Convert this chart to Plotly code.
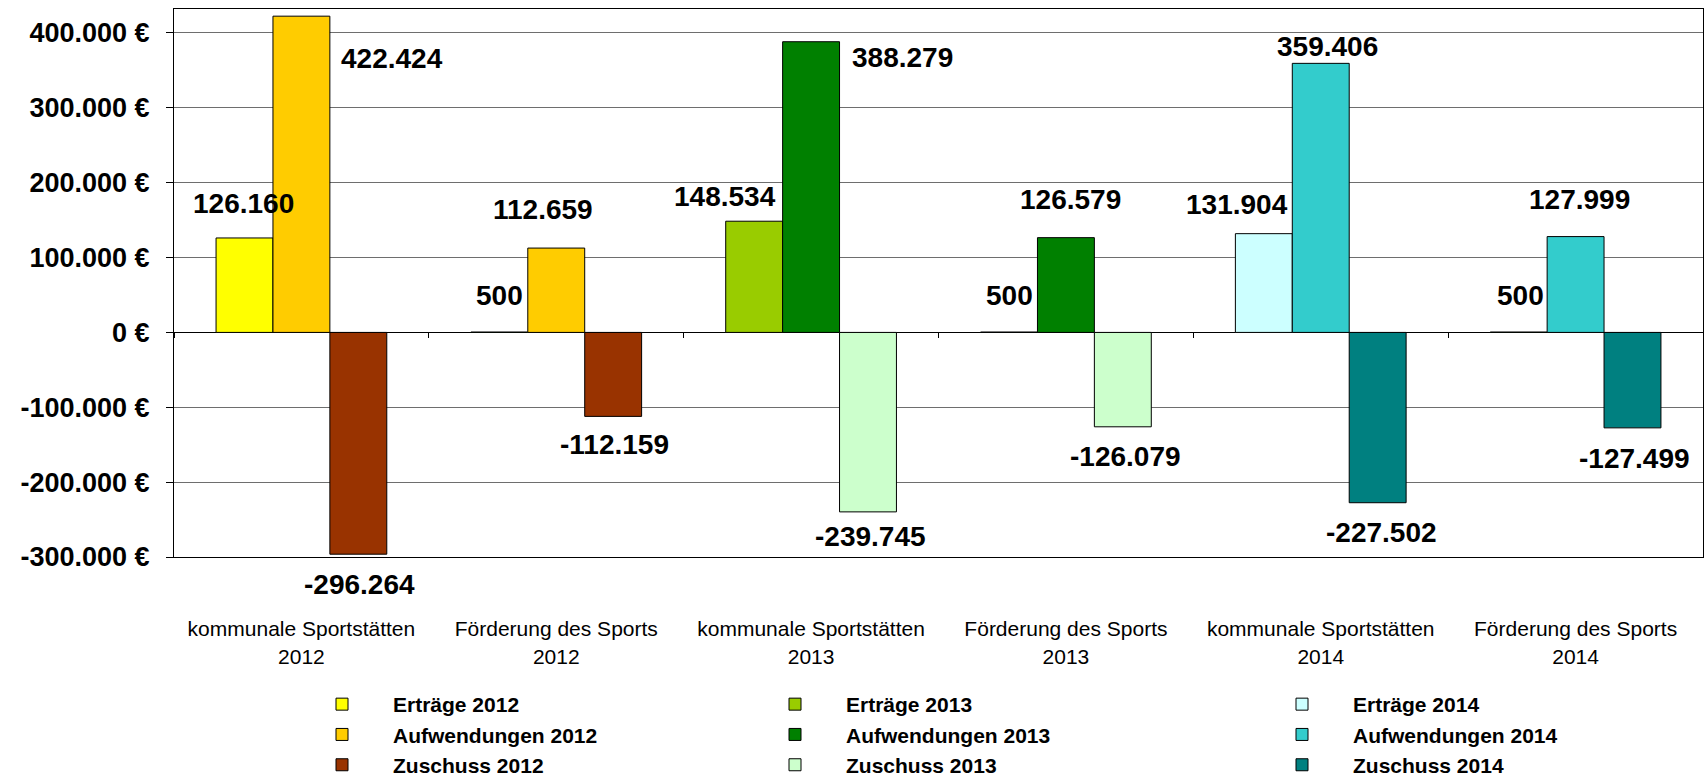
import plotly.graph_objects as go

# ---------------- data ----------------
categories = [
    "kommunale Sportstätten<br>2012", "Förderung des Sports<br>2012",
    "kommunale Sportstätten<br>2013", "Förderung des Sports<br>2013",
    "kommunale Sportstätten<br>2014", "Förderung des Sports<br>2014",
]
years = ["2012", "2013", "2014"]

ertraege_2012 = [126160, 500]
aufwendungen_2012 = [422424, 112659]
zuschuss_2012 = [-296264, -112159]

ertraege_2013 = [148534, 500]
aufwendungen_2013 = [388279, 126579]
zuschuss_2013 = [-239745, -126079]

ertraege_2014 = [131904, 500]
aufwendungen_2014 = [359406, 127999]
zuschuss_2014 = [-227502, -127499]

tick_values = [-300000, -200000, -100000, 0, 100000, 200000, 300000, 400000]
tick_labels = ["-300.000 €", "-200.000 €", "-100.000 €", "0 €",
               "100.000 €", "200.000 €", "300.000 €", "400.000 €"]

# ---------------- styles ----------------
FONT = "Liberation Sans, Arial, sans-serif"
W, H = 1704, 779
ML, MR, MT, MB = 174, 1, 9, 222
Y_RANGE = [-300000, 432000]
BARGAP = 0.33

colors = {
    ("E", "2012"): ["#FFFF00", "#00FF00"],
    ("A", "2012"): ["#FFCC00", "#FFCC00"],
    ("Z", "2012"): ["#993300", "#993300"],
    ("E", "2013"): ["#99CC00", "#339966"],
    ("A", "2013"): ["#008000", "#008000"],
    ("Z", "2013"): ["#CCFFCC", "#CCFFCC"],
    ("E", "2014"): ["#CCFFFF", "#00FF00"],
    ("A", "2014"): ["#33CCCC", "#33CCCC"],
    ("Z", "2014"): ["#008080", "#008080"],
}
names = {"E": "Erträge", "A": "Aufwendungen", "Z": "Zuschuss"}
series = {
    ("E", "2012"): ertraege_2012, ("A", "2012"): aufwendungen_2012, ("Z", "2012"): zuschuss_2012,
    ("E", "2013"): ertraege_2013, ("A", "2013"): aufwendungen_2013, ("Z", "2013"): zuschuss_2013,
    ("E", "2014"): ertraege_2014, ("A", "2014"): aufwendungen_2014, ("Z", "2014"): zuschuss_2014,
}
legend_of_year = {"2012": "legend", "2013": "legend2", "2014": "legend3"}

# label offsets (px) from bar centre / bar end : (dx, dy down)
label_offsets = {
    ("E", "2012"): [(-1, -34), (0, -37)],
    ("A", "2012"): [(91, 42), (-13, -39)],
    ("Z", "2012"): [(1, 30), (1, 28)],
    ("E", "2013"): [(-29, -25), (0, -37)],
    ("A", "2013"): [(91, 16), (5, -38)],
    ("Z", "2013"): [(3, 25), (3, 30)],
    ("E", "2014"): [(-27, -29), (2, -37)],
    ("A", "2014"): [(7, -17), (4, -37)],
    ("Z", "2014"): [(4, 30), (2, 31)],
}
slot_index = {"E": -1, "A": 0, "Z": 1}

plot_w = W - ML - MR
plot_h = H - MT - MB
cat_px = plot_w / len(categories)
bar_px = cat_px * (1 - BARGAP) / 3


def fmt(v):
    return f"{v:,}".replace(",", ".")


fig = go.Figure()
annotations = []
for yi, year in enumerate(years):
    cats = categories[2 * yi: 2 * yi + 2]
    for kind in ["E", "A", "Z"]:
        key = (kind, year)
        vals = series[key]
        fig.add_trace(go.Bar(
            x=cats, y=vals, name=f"{names[kind]} {year}",
            offsetgroup=kind,
            marker=dict(color=colors[key], line=dict(color="#000000", width=1)),
            legend=legend_of_year[year],
            hoverinfo="x+y",
        ))
        for c, v, (dx, dy) in zip(cats, vals, label_offsets[key]):
            annotations.append(dict(
                x=c, y=v, xref="x", yref="y", text=fmt(v), showarrow=False,
                xanchor="center", yanchor="middle",
                xshift=slot_index[kind] * bar_px + dx, yshift=-dy,
                font=dict(family=FONT, size=28, color="#000000", weight="bold"),
            ))

# invisible helper trace so the zero-line tick axis is drawn
fig.add_trace(go.Scatter(x=categories, y=[None] * len(categories), xaxis="x2",
                         mode="markers", showlegend=False, hoverinfo="skip"))

zero_frac = (0 - Y_RANGE[0]) / (Y_RANGE[1] - Y_RANGE[0])
legend_top_px = 684

leg_common = dict(
    orientation="v", xanchor="left", yanchor="top",
    y=-(legend_top_px - (MT + plot_h)) / plot_h,
    font=dict(family=FONT, size=21, color="#000000", weight="bold"),
    itemwidth=92, bgcolor="rgba(0,0,0,0)", borderwidth=0,
    itemclick=False, itemdoubleclick=False,
)

fig.update_layout(
    width=W, height=H,
    margin=dict(l=ML, r=MR, t=MT, b=MB, pad=0, autoexpand=False),
    paper_bgcolor="#FFFFFF", plot_bgcolor="#FFFFFF",
    barmode="group", bargap=BARGAP, bargroupgap=0,
    font=dict(family=FONT, color="#000000"),
    xaxis=dict(
        type="category", categoryorder="array", categoryarray=categories,
        showline=True, linecolor="#000000", linewidth=1, mirror=True,
        ticks="", showgrid=False, zeroline=False,
        tickfont=dict(family=FONT, size=21, color="#000000"),
        ticklabelstandoff=53,
    ),
    xaxis2=dict(
        type="category", matches="x", overlaying="x", anchor="free",
        position=zero_frac, ticks="outside", tickson="boundaries",
        ticklen=5, tickcolor="#000000", tickwidth=1,
        showticklabels=False, showline=False, showgrid=False, zeroline=False,
    ),
    yaxis=dict(
        range=Y_RANGE, tickvals=tick_values, ticktext=tick_labels,
        showline=True, linecolor="#000000", linewidth=1, mirror=True,
        ticks="outside", ticklen=7, tickcolor="#000000",
        showgrid=True, gridcolor="#6e6e6e", gridwidth=1,
        zeroline=True, zerolinecolor="#000000", zerolinewidth=1,
        tickfont=dict(family=FONT, size=27, color="#000000", weight="bold"),
        ticklabelstandoff=11,
    ),
    legend=dict(x=(291 - ML) / plot_w, **leg_common),
    legend2=dict(x=(744 - ML) / plot_w, **leg_common),
    legend3=dict(x=(1251 - ML) / plot_w, **leg_common),
    annotations=annotations,
    showlegend=True,
)

fig.write_html("out.html", config={"displayModeBar": False},
               post_script="document.body.style.margin='0';")
